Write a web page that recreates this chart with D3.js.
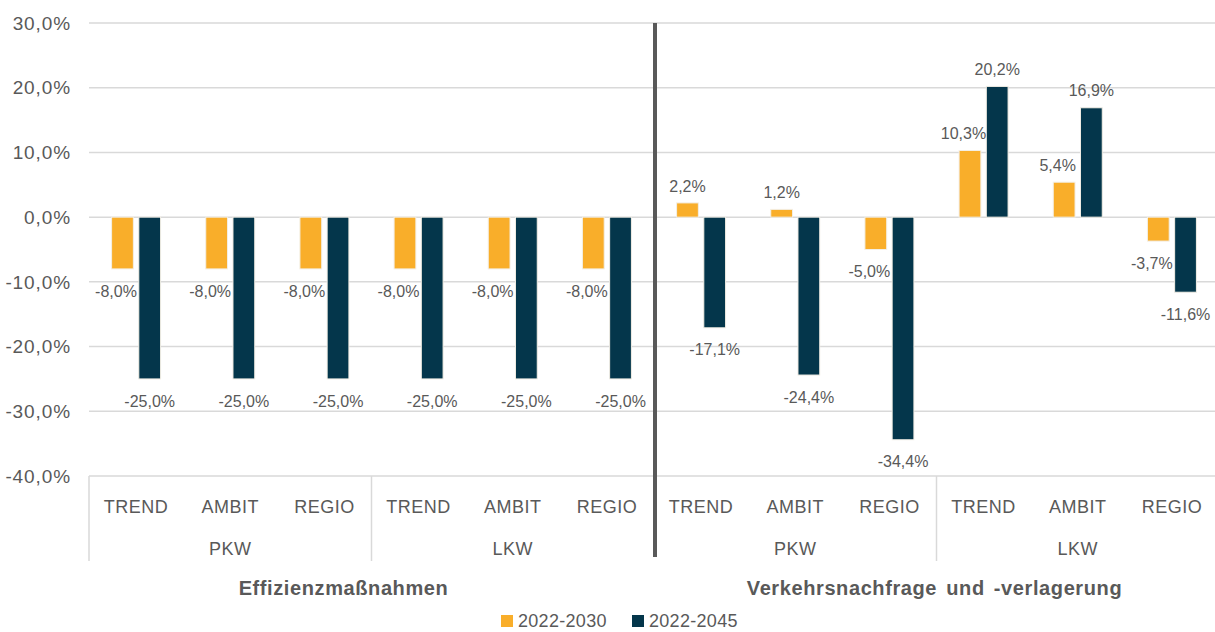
<!DOCTYPE html>
<html>
<head>
<meta charset="utf-8">
<script src="https://cdn.jsdelivr.net/npm/d3@7"></script>
<style>
  body { margin: 0; background: #fff; }
  svg { font-family: "Liberation Sans", Arial, sans-serif; }
</style>
</head>
<body>
<div id="chart"></div>
<script>
// Data
const groups = ["Effizienzmaßnahmen", "Verkehrsnachfrage und -verlagerung"];
const vehicles = ["PKW", "LKW"];
const scenarios = ["TREND", "AMBIT", "REGIO"];
const series = ["2022-2030", "2022-2045"];
const values2030 = [-8.0, -8.0, -8.0, -8.0, -8.0, -8.0, 2.2, 1.2, -5.0, 10.3, 5.4, -3.7];
const values2045 = [-25.0, -25.0, -25.0, -25.0, -25.0, -25.0, -17.1, -24.4, -34.4, 20.2, 16.9, -11.6];
const yTicks = [30, 20, 10, 0, -10, -20, -30, -40];

const colors = { "2022-2030": "#F9AE2A", "2022-2045": "#04364B" };
const textColor = "#595959";

const width = 1215;
const height = 632;
const plotLeft = 89, plotRight = 1219, plotTop = 23, plotBottom = 476;

// Build flat category list (group > vehicle > scenario)
const cats = [];
groups.forEach(g => vehicles.forEach(v => scenarios.forEach(s => {
  const i = cats.length;
  cats.push({ id: i, group: g, vehicle: v, scenario: s, v2030: values2030[i], v2045: values2045[i] });
})));

const svg = d3.select("#chart")
  .append("svg")
  .attr("width", width)
  .attr("height", height);

const x = d3.scaleBand().domain(cats.map(d => d.id)).range([plotLeft, plotRight]).padding(0);
const xs = d3.scaleBand().domain(series).range([0, x.bandwidth()])
  .paddingInner(0.2).paddingOuter(0.83);
const y = d3.scaleLinear().domain([-40, 30]).range([plotBottom, plotTop]);

const fmt = v => d3.format(".1f")(v).replace(".", ",").replace("−", "-") + "%";

// Gridlines
svg.append("g")
  .selectAll("line")
  .data(yTicks)
  .join("line")
  .attr("x1", plotLeft).attr("x2", width)
  .attr("y1", d => y(d)).attr("y2", d => y(d))
  .attr("stroke", "#d9d9d9")
  .attr("stroke-width", 1.5);

// Y axis labels
svg.append("g")
  .selectAll("text")
  .data(yTicks)
  .join("text")
  .attr("x", 71)
  .attr("y", d => y(d))
  .attr("dy", "0.35em")
  .attr("text-anchor", "end")
  .attr("fill", textColor)
  .style("font-size", "19px")
  .style("letter-spacing", "0.9px")
  .text(d => fmt(d));

// Bars
const barData = [];
cats.forEach(c => {
  barData.push({ cat: c.id, s: "2022-2030", v: c.v2030, other: c.v2045 });
  barData.push({ cat: c.id, s: "2022-2045", v: c.v2045, other: c.v2030 });
});

svg.append("g")
  .selectAll("rect")
  .data(barData)
  .join("rect")
  .attr("x", d => x(d.cat) + xs(d.s))
  .attr("width", xs.bandwidth())
  .attr("y", d => y(Math.max(0, d.v)))
  .attr("height", d => Math.abs(y(d.v) - y(0)))
  .attr("fill", d => colors[d.s])
  .attr("stroke", "#f3efe6")
  .attr("stroke-width", 1);

// Value labels; the short orange label is nudged left when the dark bar next to it
// reaches past it on the same side
const nudge = d => (d.s === "2022-2030" && d.v * d.other > 0 && Math.abs(d.other) > Math.abs(d.v)) ? -6.5 : 0;
svg.append("g")
  .selectAll("text")
  .data(barData)
  .join("text")
  .attr("x", d => x(d.cat) + xs(d.s) + xs.bandwidth() / 2 + nudge(d))
  .attr("y", d => d.v >= 0 ? y(d.v) - 17 : y(d.v) + 22)
  .attr("dy", "0.35em")
  .attr("text-anchor", "middle")
  .attr("fill", textColor)
  .style("font-size", "16px")
  .text(d => fmt(d.v));

// Category axis (multi-level)
const axis = svg.append("g");
axis.selectAll("text.scen")
  .data(cats)
  .join("text")
  .attr("class", "scen")
  .attr("x", d => x(d.id) + x.bandwidth() / 2)
  .attr("y", 507)
  .attr("dy", "0.35em")
  .attr("text-anchor", "middle")
  .attr("fill", textColor)
  .style("font-size", "18px")
  .style("letter-spacing", "0.5px")
  .text(d => d.scenario);

const vehBlocks = cats.filter(d => d.id % 3 === 0);
axis.selectAll("text.veh")
  .data(vehBlocks)
  .join("text")
  .attr("class", "veh")
  .attr("x", d => x(d.id) + x.bandwidth() * 1.5)
  .attr("y", 549)
  .attr("dy", "0.35em")
  .attr("text-anchor", "middle")
  .attr("fill", textColor)
  .style("font-size", "18px")
  .style("letter-spacing", "0.5px")
  .text(d => d.vehicle);

axis.selectAll("line.sep")
  .data(vehBlocks.filter(d => d.id !== 6))
  .join("line")
  .attr("class", "sep")
  .attr("x1", d => x(d.id)).attr("x2", d => x(d.id))
  .attr("y1", plotBottom).attr("y2", 561)
  .attr("stroke", "#d9d9d9")
  .attr("stroke-width", 1.5);

const groupBlocks = cats.filter(d => d.id % 6 === 0);
const groupDx = [-28, -2];
axis.selectAll("text.grp")
  .data(groupBlocks)
  .join("text")
  .attr("class", "grp")
  .attr("x", (d, i) => x(d.id) + x.bandwidth() * 3 + groupDx[i])
  .attr("y", 588)
  .attr("dy", "0.35em")
  .attr("text-anchor", "middle")
  .attr("fill", textColor)
  .style("font-size", "20px")
  .style("font-weight", "bold")
  .style("letter-spacing", "0.6px")
  .style("word-spacing", "3px")
  .text(d => d.group);

// Thick divider between groups
svg.append("line")
  .attr("x1", x(6) + 1).attr("x2", x(6) + 1)
  .attr("y1", plotTop).attr("y2", 557)
  .attr("stroke", "#595959")
  .attr("stroke-width", 4);

// Legend
const legend = svg.append("g").attr("transform", "translate(501,621)");
const legendX = [0, 131];
series.forEach((s, i) => {
  const g = legend.append("g").attr("transform", `translate(${legendX[i]},0)`);
  g.append("rect")
    .attr("x", 0).attr("y", -6)
    .attr("width", 12).attr("height", 12)
    .attr("fill", colors[s]);
  g.append("text")
    .attr("x", 17).attr("y", 0)
    .attr("dy", "0.35em")
    .attr("fill", textColor)
    .style("font-size", "18px")
    .style("letter-spacing", "0.3px")
    .text(s);
});
</script>
</body>
</html>
